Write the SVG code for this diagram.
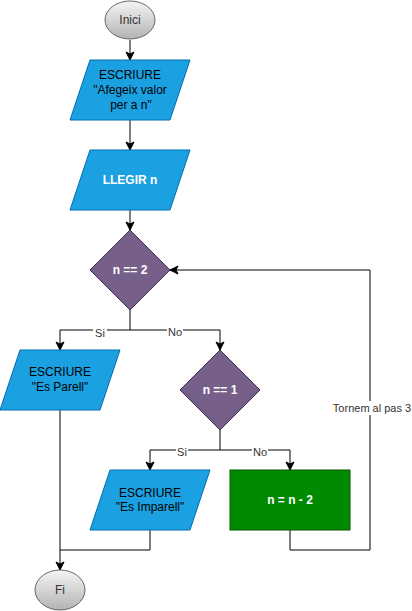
<svg xmlns="http://www.w3.org/2000/svg" width="412" height="611" viewBox="0 0 412 611">
<style>
text{font-family:"Liberation Sans",Arial,sans-serif;text-anchor:middle}
.io{fill:#1BA1E2;stroke:#006EAF;stroke-width:1}
.dec{fill:#76608A;stroke:#432D57;stroke-width:1}
.proc{fill:#008A00;stroke:#005700;stroke-width:1}
.term{fill:url(#g);stroke:#666666;stroke-width:1}
.t{font-size:12px;fill:#000}
.tt{font-size:12px;fill:#333}
.b{font-size:12px;font-weight:bold;fill:#ffffff}
.e{fill:none;stroke:#000;stroke-width:1}
.lbl{font-size:11px;fill:#333}
.bg{fill:#ffffff}
</style>
<defs>
<linearGradient id="g" x1="0" y1="0" x2="0" y2="1">
<stop offset="0" stop-color="#f5f5f5"/>
<stop offset="1" stop-color="#b3b3b3"/>
</linearGradient>
<marker id="a" markerUnits="userSpaceOnUse" markerWidth="10" markerHeight="10" viewBox="0 0 10 10" refX="9" refY="5" orient="auto">
<path d="M1,1 L9,5 L1,9 L3,5 Z" fill="#000" stroke="#000" stroke-width="1"/>
</marker>
</defs>
<g id="edges">
<path class="e" d="M130,40 V60" marker-end="url(#a)"/>
<path class="e" d="M130,120 V150" marker-end="url(#a)"/>
<path class="e" d="M130,210 V230" marker-end="url(#a)"/>
<path class="e" d="M130,310 V330 H60 V350" marker-end="url(#a)"/>
<path class="e" d="M130,330 H220 V350" marker-end="url(#a)"/>
<path class="e" d="M220,430 V450 H150 V470" marker-end="url(#a)"/>
<path class="e" d="M220,450 H290 V470" marker-end="url(#a)"/>
<path class="e" d="M60,410 V570" marker-end="url(#a)"/>
<path class="e" d="M150,530 V550 H60"/>
<path class="e" d="M290,530 V550 H370 V270 H170" marker-end="url(#a)"/>
<rect class="bg" x="93" y="326" width="14" height="13"/>
<text class="lbl" x="100" y="337">Si</text>
<rect class="bg" x="167" y="326" width="16" height="13"/>
<text class="lbl" x="175" y="336">No</text>
<rect class="bg" x="176" y="446" width="12" height="13"/>
<text class="lbl" x="182" y="456">Si</text>
<rect class="bg" x="252" y="446" width="16" height="13"/>
<text class="lbl" x="260" y="456">No</text>
<rect class="bg" x="333" y="401" width="79" height="14"/>
<text class="lbl" x="372" y="412">Tornem al pas 3</text>
</g>
<g id="inici">
<ellipse class="term" cx="130" cy="20" rx="25" ry="19"/>
<text class="tt" x="130" y="24">Inici</text>
</g>
<g id="escriure1">
<polygon class="io" points="90,60 190,60 170,120 70,120"/>
<text class="t" x="130" y="79">ESCRIURE</text>
<text class="t" x="130" y="94">"Afegeix valor</text>
<text class="t" x="131" y="109">per a n"</text>
</g>
<g id="llegir">
<polygon class="io" points="90,150 190,150 170,210 70,210"/>
<text class="b" x="130" y="184">LLEGIR n</text>
</g>
<g id="dec1">
<polygon class="dec" points="130,230 170,270 130,310 90,270"/>
<text class="b" x="130" y="274">n == 2</text>
</g>
<g id="parell">
<polygon class="io" points="20,350 120,350 100,410 0,410"/>
<text class="t" x="60" y="376">ESCRIURE</text>
<text class="t" x="60" y="391">"Es Parell"</text>
</g>
<g id="dec2">
<polygon class="dec" points="220,350 260,390 220,430 180,390"/>
<text class="b" x="220" y="394">n == 1</text>
</g>
<g id="imparell">
<polygon class="io" points="110,470 210,470 190,530 90,530"/>
<text class="t" x="150" y="497">ESCRIURE</text>
<text class="t" x="150" y="511">"Es Imparell"</text>
</g>
<g id="resta">
<rect class="proc" x="230" y="470" width="120" height="60"/>
<text class="b" x="290" y="504">n = n - 2</text>
</g>
<g id="fi">
<ellipse class="term" cx="60" cy="590" rx="25" ry="20"/>
<text class="tt" x="60" y="594">Fi</text>
</g>
</svg>
